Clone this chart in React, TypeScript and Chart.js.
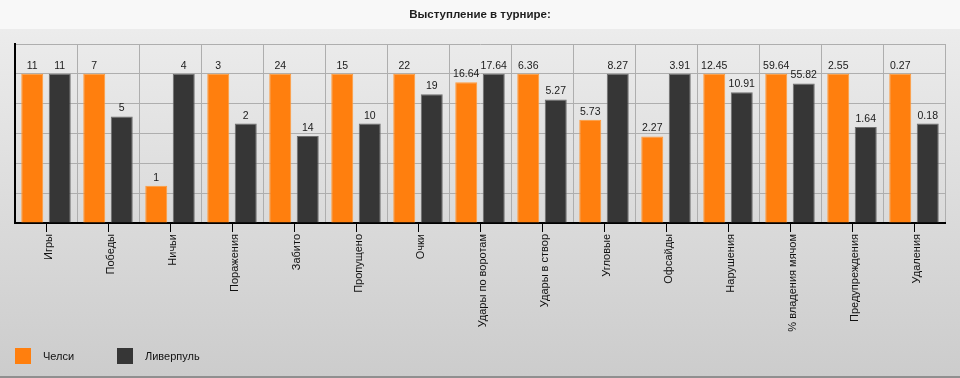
import React, { useEffect, useRef } from "react";
import { Chart, registerables } from "chart.js";

Chart.register(...registerables);

const titleText = "Выступление в турнире:";
const categories = [
  "Игры",
  "Победы",
  "Ничьи",
  "Поражения",
  "Забито",
  "Пропущено",
  "Очки",
  "Удары по воротам",
  "Удары в створ",
  "Угловые",
  "Офсайды",
  "Нарушения",
  "% владения мячом",
  "Предупреждения",
  "Удаления",
];
const seriesNames = ["Челси", "Ливерпуль"];
const chelsea = [11, 7, 1, 3, 24, 15, 22, 16.64, 6.36, 5.73, 2.27, 12.45, 59.64, 2.55, 0.27];
const liverpool = [11, 5, 4, 2, 14, 10, 19, 17.64, 5.27, 8.27, 3.91, 10.91, 55.82, 1.64, 0.18];
const seriesColors = ["#ff7f0e", "#363636"];
const seriesBorders = ["#ff9a3c", "#6e6e6e"];

const FONT = "'Liberation Sans', Arial, sans-serif";

const rawSeries = [chelsea, liverpool];
const maxPerCat = categories.map((_, i) => Math.max(chelsea[i], liverpool[i]));
const normalized = rawSeries.map((s) => s.map((v, i) => (maxPerCat[i] ? v / maxPerCat[i] : 0)));

const valueLabelPlugin = {
  id: "valueLabels",
  afterDatasetsDraw(chart: any) {
    const ctx = chart.ctx;
    ctx.save();
    ctx.font = `10.5px ${FONT}`;
    ctx.fillStyle = "#1a1a1a";
    ctx.textAlign = "center";
    ctx.textBaseline = "alphabetic";
    chart.data.datasets.forEach((ds: any, di: number) => {
      const meta = chart.getDatasetMeta(di);
      meta.data.forEach((el: any, i: number) => {
        const raw = rawSeries[di][i];
        ctx.fillText(String(raw), el.x, el.y - 5);
      });
    });
    ctx.restore();
  },
};

const centerTickPlugin = {
  id: "centerTicks",
  afterDraw(chart: any) {
    const ctx = chart.ctx;
    const xs = chart.scales.x;
    const bottom = chart.chartArea.bottom;
    ctx.save();
    ctx.strokeStyle = "#000";
    ctx.lineWidth = 1;
    categories.forEach((_, i) => {
      const x = Math.round(xs.getPixelForValue(i)) + 0.5;
      ctx.beginPath();
      ctx.moveTo(x, bottom);
      ctx.lineTo(x, bottom + 9);
      ctx.stroke();
    });
    ctx.restore();
  },
};

export default function App() {
  const ref = useRef<HTMLCanvasElement | null>(null);

  useEffect(() => {
    if (!ref.current) return;
    const chart = new Chart(ref.current, {
      type: "bar",
      data: {
        labels: categories,
        datasets: seriesNames.map((name, di) => ({
          label: name,
          data: normalized[di],
          backgroundColor: seriesColors[di],
          borderColor: seriesBorders[di],
          borderWidth: 1,
          categoryPercentage: 0.887,
          barPercentage: 0.8,
        })),
      },
      options: {
        animation: false,
        responsive: false,
        devicePixelRatio: 1,
        layout: { padding: { left: 15, right: 15, top: 0, bottom: 0 } },
        plugins: {
          legend: { display: false },
          tooltip: { enabled: false },
          title: {
            display: true,
            text: titleText,
            color: "#1e1e1e",
            font: { family: FONT, size: 11.5, weight: "bold" },
            padding: { top: 8, bottom: 22.2 },
          },
        },
        scales: {
          x: {
            grid: {
              offset: true,
              color: "#aeaeae",
              lineWidth: 1,
              drawTicks: false,
            },
            border: { display: true, color: "#000", width: 2 },
            ticks: {
              autoSkip: false,
              maxRotation: 90,
              minRotation: 90,
              padding: 11,
              labelOffset: 3,
              color: "#111",
              font: { family: FONT, size: 11 },
            },
            afterFit(scale: any) {
              scale.height = 155;
            },
          },
          y: {
            min: 0,
            max: 1.2,
            grid: { color: "#aeaeae", lineWidth: 1, drawTicks: false },
            border: { display: true, color: "#000", width: 2 },
            ticks: { display: false, stepSize: 0.2 },
            afterFit(scale: any) {
              scale.width = 0;
            },
          },
        },
      },
      plugins: [valueLabelPlugin, centerTickPlugin],
    });
    return () => chart.destroy();
  }, []);

  return (
    <div
      style={{
        position: "absolute",
        left: 0,
        top: 0,
        width: 960,
        height: 378,
        overflow: "hidden",
        background:
          "linear-gradient(to bottom, #f8f8f8 0px, #f8f8f8 29px, #ececec 29px, #cccccc 376px)",
      }}
    >
      <canvas
        ref={ref}
        width={960}
        height={378}
        style={{ position: "absolute", left: 0, top: 0, width: 960, height: 378 }}
      />
      {seriesNames.map((name, i) => (
        <div
          key={name}
          style={{
            position: "absolute",
            left: 15 + i * 102,
            top: 348,
            height: 16,
            display: "flex",
            alignItems: "center",
            fontFamily: FONT,
            fontSize: 11,
            color: "#111",
            whiteSpace: "nowrap",
          }}
        >
          <span
            style={{
              display: "inline-block",
              width: 16,
              height: 16,
              background: seriesColors[i],
              marginRight: 12,
            }}
          />
          <span>{name}</span>
        </div>
      ))}
      <div
        style={{
          position: "absolute",
          left: 0,
          top: 376,
          width: 960,
          height: 2,
          background: "#8f8f8f",
        }}
      />
    </div>
  );
}
